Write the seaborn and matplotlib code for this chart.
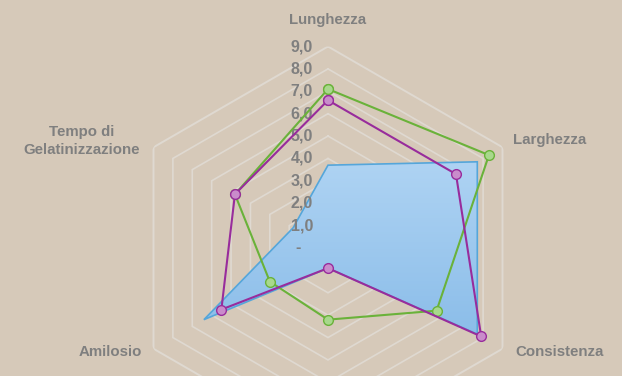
import numpy as np
import matplotlib
matplotlib.use("Agg")
import matplotlib.pyplot as plt
import seaborn as sns
from matplotlib.transforms import offset_copy
from matplotlib.colors import to_rgb

# ---------------- data ----------------
categories = ["Lunghezza", "Larghezza", "Consistenza", "Collosità", "Amilosio",
              "Tempo di\nGelatinizzazione"]
angles_deg = [0, 60, 120, 180, 240, 300]
serie_area = [3.7, 7.7, 7.7, 0.9, 6.4, 1.8]      # blue filled series
serie_verde = [7.1, 8.3, 5.6, 3.2, 3.0, 4.8]     # green line
serie_viola = [6.6, 6.6, 7.9, 0.9, 5.5, 4.8]     # purple line
tick_values = [0, 1, 2, 3, 4, 5, 6, 7, 8, 9]
tick_labels = ["-", "1,0", "2,0", "3,0", "4,0", "5,0", "6,0", "7,0", "8,0", "9,0"]

# ---------------- style ----------------
BG = "#D6C9B9"
TXT = "#7F7F7F"
GRID = "#DFD9D1"
sns.set_theme(style="white")
plt.rcParams['font.family'] = ['Liberation Sans', 'DejaVu Sans']

W, H = 622, 376
fig = plt.figure(figsize=(W / 100, H / 100), dpi=100, facecolor=BG)
cx, cy, R = 328, 248, 201.5
rect = [(cx - R) / W, (H - cy - R) / H, 2 * R / W, 2 * R / H]

ax_g = fig.add_axes(rect, projection="polar")
ax_g.set_zorder(0)
ax_img = fig.add_axes([0, 0, 1, 1])
ax_img.set_zorder(1)
ax_d = fig.add_axes(rect, projection="polar")
ax_d.set_zorder(2)

for a in (ax_g, ax_d):
    a.set_theta_zero_location("N")
    a.set_theta_direction(-1)
    a.set_axis_off()

th = np.deg2rad(np.array(angles_deg + [angles_deg[0] + 360], dtype=float))

def close(v):
    return np.array(list(v) + [v[0]], dtype=float)

# hexagonal grid rings
for v in tick_values[1:]:
    ax_g.plot(th, [v] * len(th), color=GRID, lw=1.2 if v < 9 else 1.4,
              solid_joinstyle="miter")
ax_g.set_ylim(0, 9)

# blue area (outline on data axes, gradient image clipped to it)
poly = ax_d.fill(th, close(serie_area), facecolor="none", edgecolor="#55A6DA",
                 linewidth=1.2, zorder=2)[0]

top_c = np.array(to_rgb("#AED3F3"))
bot_c = np.array(to_rgb("#8BBDE9"))
ys = np.arange(H)
t = np.clip((ys - 163) / (335 - 163), 0, 1)[:, None]
grad = (top_c * (1 - t) + bot_c * t)[:, None, :].repeat(2, axis=1)
im = ax_img.imshow(grad, extent=[0, W, H, 0], aspect="auto", origin="upper",
                   interpolation="bilinear")
ax_img.set_xlim(0, W)
ax_img.set_ylim(H, 0)
ax_img.set_axis_off()
im.set_clip_path(poly)

# lines with markers
sns.lineplot(x=th, y=close(serie_verde), ax=ax_d, sort=False, estimator=None,
             color="#6AB23A", linewidth=1.5, marker="o", markersize=7,
             markerfacecolor="#A8D88C", markeredgecolor="#6AB23A",
             markeredgewidth=1.0, zorder=3)
sns.lineplot(x=th, y=close(serie_viola), ax=ax_d, sort=False, estimator=None,
             color="#982C9C", linewidth=1.5, marker="o", markersize=7,
             markerfacecolor="#C98CCB", markeredgecolor="#982C9C",
             markeredgewidth=1.0, zorder=4)
ax_d.set_ylim(0, 9)
ax_d.set_axis_off()

# radial tick labels
for v, lab in zip(tick_values, tick_labels):
    dx = 27 if lab == "-" else 15
    tr = offset_copy(ax_d.transData, fig=fig, x=-dx, y=0, units="dots")
    ax_d.text(0, v, lab, transform=tr, ha="right", va="center", fontsize=11.5,
              fontweight="bold", color=TXT, zorder=2.5)

# category labels (the bottom one lies outside the visible canvas)
label_px = [(328, 20), (550, 140), (560, 352), None, (110, 352), (82, 141)]
for cat, pos in zip(categories, label_px):
    if pos is None:
        continue
    fig.text(pos[0] / W, 1 - pos[1] / H, cat, ha="center", va="center",
             multialignment="center", fontsize=10.8, fontweight="bold", color=TXT,
             linespacing=1.4)

fig.savefig("out.png", dpi=100, facecolor=BG)
